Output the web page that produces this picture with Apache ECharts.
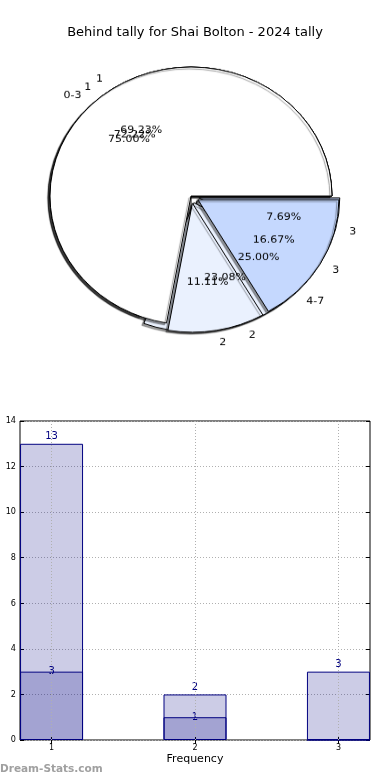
<!DOCTYPE html>
<html><head><meta charset="utf-8">
<script src="https://cdn.jsdelivr.net/npm/echarts@6/dist/echarts.min.js"></script>
<style>
html,body{margin:0;padding:0;background:#fff}
#wrap{position:relative;width:390px;height:780px;overflow:hidden}
#pie{position:absolute;left:0;top:0;width:390px;height:400px;transform:scaleY(0.915);transform-origin:0 196px}
#bar{position:absolute;left:0;top:0;width:390px;height:780px}
</style>
</head><body><div id="wrap"><div id="pie"></div><div id="bar"></div></div>
<script>
// ---- data ----
const chartTitle = 'Behind tally for Shai Bolton - 2024 tally';
const pieANames = ['0-3', '4-7'];
const pieAValues = [3, 1];
const pieAExplode = [false, true];
const pieBNames = ['1', '2', '3'];
const pieBValues = [9, 3, 1];
const pieBExplode = [false, true, true];
const pieCNames = ['1', '2', '3'];
const pieCValues = [13, 2, 3];
const pieCExplode = [false, true, true];
const barX = [1, 2, 3];
const barTotal = [13, 2, 3];
const barPart = [3, 1, 0];
const xAxisName = 'Frequency';
const yAxisName = 'Behind Tally';
const watermark = 'Dream-Stats.com';

// ---- styles ----
const sliceColors = {'1': '#ffffff', '2': '#eaf1fe', '3': '#c5d8fe', '0-3': '#ffffff', '4-7': '#eaf1fe'};
const FONT = 'DejaVu Sans';
const CENTER = [191, 196];
const R = 141;
const OFFSET = 8;

function pieSeries(names, values, explode) {
  return {
    type: 'pie', center: CENTER, radius: [0, R], startAngle: 0, clockwise: false,
    selectedMode: 'multiple', selectedOffset: OFFSET, avoidLabelOverlap: false,
    emphasis: {disabled: true},
    labelLayout: {hideOverlap: false},
    label: {show: true, position: 'outside', formatter: '{b}', fontSize: 11, color: '#000', fontFamily: FONT, distanceToLabelLine: 0},
    labelLine: {show: false, length: 14, length2: 0},
    itemStyle: {borderColor: '#000', borderWidth: 1, shadowBlur: 1, shadowOffsetX: -2, shadowOffsetY: 2, shadowColor: 'rgba(0,0,0,0.4)'},
    data: names.map((n, i) => ({name: n, value: values[i], selected: explode[i], itemStyle: {color: sliceColors[n]}}))
  };
}
function pctSeries(names, values, explode) {
  const total = values.reduce((a, b) => a + b, 0);
  return {
    type: 'pie', center: CENTER, radius: [0, 1.2 * R], startAngle: 0, clockwise: false,
    selectedMode: 'multiple', selectedOffset: OFFSET, silent: true, z: 10, avoidLabelOverlap: false,
    emphasis: {disabled: true},
    labelLayout: {hideOverlap: false},
    label: {show: true, position: 'inside', rotate: 0, fontSize: 11, color: '#000', fontFamily: FONT,
      formatter: p => (p.value / total * 100).toFixed(2) + '%'},
    labelLine: {show: false},
    itemStyle: {color: 'rgba(0,0,0,0)', borderWidth: 0},
    data: names.map((n, i) => ({name: n, value: values[i], selected: explode[i]}))
  };
}

const pieChart = echarts.init(document.getElementById('pie'), null, {renderer: 'canvas'});
pieChart.setOption({
  animation: false,
  series: [
    pieSeries(pieANames, pieAValues, pieAExplode),
    pieSeries(pieBNames, pieBValues, pieBExplode),
    pieSeries(pieCNames, pieCValues, pieCExplode),
    pctSeries(pieANames, pieAValues, pieAExplode),
    pctSeries(pieBNames, pieBValues, pieBExplode),
    pctSeries(pieCNames, pieCValues, pieCExplode)
  ]
});

const chart = echarts.init(document.getElementById('bar'), null, {renderer: 'canvas'});
const tickStyle = {show: true, inside: true, length: 4, lineStyle: {color: '#000', width: 1}};
chart.setOption({
  animation: false,
  title: [
    {text: chartTitle, left: 'center', top: 21, textStyle: {fontFamily: FONT, fontSize: 13, fontWeight: 'normal', color: '#000'}},
    {text: watermark, left: 0, top: 764, padding: 0, textStyle: {fontFamily: FONT, fontSize: 10.5, fontWeight: 'bold', color: '#a0a0a0'}}
  ],
  grid: {left: 20, right: 20, top: 421, bottom: 40, show: true, borderColor: '#000', borderWidth: 1,
         backgroundColor: '#fff', containLabel: false, outerBoundsMode: 'none'},
  xAxis: [
    {type: 'value', min: 0.78, max: 3.22, position: 'bottom', name: xAxisName, nameLocation: 'middle', nameGap: 14,
     nameTextStyle: {fontFamily: FONT, fontSize: 11, color: '#000'},
     axisLine: {show: false}, splitLine: {show: false},
     axisTick: Object.assign({customValues: barX}, tickStyle),
     axisLabel: {customValues: barX, fontSize: 8, color: '#000', margin: 4, fontFamily: FONT}},
    {type: 'value', min: 0.78, max: 3.22, position: 'top',
     axisLine: {show: false}, splitLine: {show: false}, axisLabel: {show: false},
     axisTick: Object.assign({customValues: barX}, tickStyle)}
  ],
  yAxis: [
    {type: 'value', min: 0, max: 14, interval: 2, position: 'left', name: yAxisName, nameLocation: 'middle', nameGap: 12,
     nameTextStyle: {fontFamily: FONT, fontSize: 11, color: '#000'},
     axisLine: {show: false}, axisTick: tickStyle,
     splitLine: {show: true, lineStyle: {type: [1, 2], color: '#b0b0b0', width: 1}},
     axisLabel: {fontSize: 9, color: '#000', margin: 4, fontFamily: 'DejaVu Sans Condensed'}},
    {type: 'value', min: 0, max: 14, interval: 2, position: 'right',
     axisLine: {show: false}, axisTick: tickStyle, splitLine: {show: false}, axisLabel: {show: false}}
  ],
  series: [
    {type: 'bar', xAxisIndex: 0, yAxisIndex: 0, barWidth: 63, barGap: '-100%',
     data: barX.map((x, i) => [x, barTotal[i]]),
     itemStyle: {color: 'rgba(0,0,128,0.2)', borderColor: '#000080', borderWidth: 1},
     label: {show: true, position: 'top', distance: 2, color: '#000080', fontSize: 10, fontFamily: FONT,
       formatter: p => p.value[1] ? String(p.value[1]) : ''},
     markLine: {silent: true, symbol: ['none', 'none'], label: {show: false},
       lineStyle: {type: [1, 2], color: '#b0b0b0', width: 1}, emphasis: {disabled: true},
       data: barX.map(x => ({xAxis: x}))}},
    {type: 'bar', xAxisIndex: 0, yAxisIndex: 0, barWidth: 63, barGap: '-100%',
     data: barX.map((x, i) => [x, barPart[i]]),
     itemStyle: {color: 'rgba(0,0,128,0.2)', borderColor: '#000080', borderWidth: 1},
     label: {show: true, position: 'top', distance: -5, color: '#000080', fontSize: 10, fontFamily: FONT,
       formatter: p => p.value[1] ? String(p.value[1]) : ''}}
  ]
});
</script></body></html>
